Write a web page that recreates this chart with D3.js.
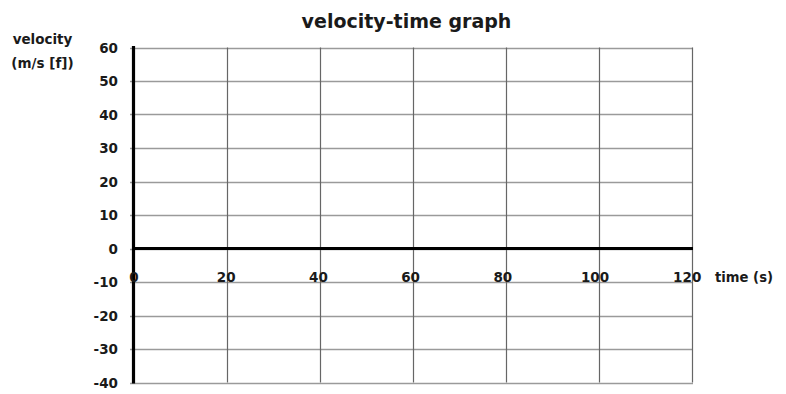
<!DOCTYPE html>
<html><head><meta charset="utf-8">
<script src="https://cdn.jsdelivr.net/npm/d3@7"></script>
<style>
html,body{margin:0;padding:0;background:#fff;}
text{font-family:"DejaVu Sans",sans-serif;font-weight:700;fill:#1a1a1a;}
</style></head>
<body><svg id="c" width="786" height="394"></svg>
<script>
const title = "velocity-time graph";
const yAxisLabel = ["velocity", "(m/s [f])"];
const xAxisLabel = "time (s)";
const xTicks = [0, 20, 40, 60, 80, 100, 120];
const yTicks = [60, 50, 40, 30, 20, 10, 0, -10, -20, -30, -40];
const xDomain = [0, 120];
const yDomain = [-40, 60];

const svg = d3.select("#c");
const m = {left:134, right:692, top:47.5, bottom:382.5};
const x = d3.scaleLinear().domain(xDomain).range([m.left, m.right]);
const y = d3.scaleLinear().domain(yDomain).range([m.bottom, m.top]);

// horizontal gridlines
svg.append("g").selectAll("line").data(yTicks).join("line")
  .attr("x1", m.left-4).attr("x2", x(xDomain[1])+1)
  .attr("y1", d=>Math.round(y(d))+0.5).attr("y2", d=>Math.round(y(d))+0.5)
  .attr("stroke", "#9a9a9a").attr("stroke-width", 1.3);

// vertical gridlines
svg.append("g").selectAll("line").data(xTicks.filter(d=>d>0)).join("line")
  .attr("x1", d=>Math.round(x(d))+0.5).attr("x2", d=>Math.round(x(d))+0.5)
  .attr("y1", y(yDomain[1])).attr("y2", y(yDomain[0]))
  .attr("stroke", "#666").attr("stroke-width", 1.2);

// zero line
svg.append("line")
  .attr("x1", x(0)).attr("x2", x(xDomain[1])+1)
  .attr("y1", y(0)).attr("y2", y(0))
  .attr("stroke", "#000").attr("stroke-width", 3.2);

// y axis line
svg.append("line")
  .attr("x1", x(0)-0.5).attr("x2", x(0)-0.5)
  .attr("y1", y(yDomain[1])-1.5).attr("y2", y(yDomain[0])+1)
  .attr("stroke", "#000").attr("stroke-width", 3.2);

// y tick labels
svg.append("g").selectAll("text").data(yTicks).join("text")
  .attr("x", 118).attr("y", d=>y(d)+5)
  .attr("text-anchor", "end").attr("font-size", 13.5)
  .text(d=>d);

// x tick labels
svg.append("g").selectAll("text").data(xTicks).join("text")
  .attr("x", d=>x(d) - d*0.04).attr("y", y(0)+33)
  .attr("text-anchor", "middle").attr("font-size", 13.5)
  .text(d=>d);

// title
svg.append("text").attr("x", 406.5).attr("y", 28)
  .attr("text-anchor", "middle").attr("font-size", 19).text(title);

// y axis label
svg.selectAll(".yl").data(yAxisLabel).join("text").attr("class","yl")
  .attr("x", 42.5).attr("y", (d,i)=>44+i*24)
  .attr("text-anchor", "middle").attr("font-size", 13.5).text(d=>d);

// x axis label
svg.append("text").attr("x", 715).attr("y", y(0)+33)
  .attr("font-size", 13.2).text(xAxisLabel);
</script></body></html>
